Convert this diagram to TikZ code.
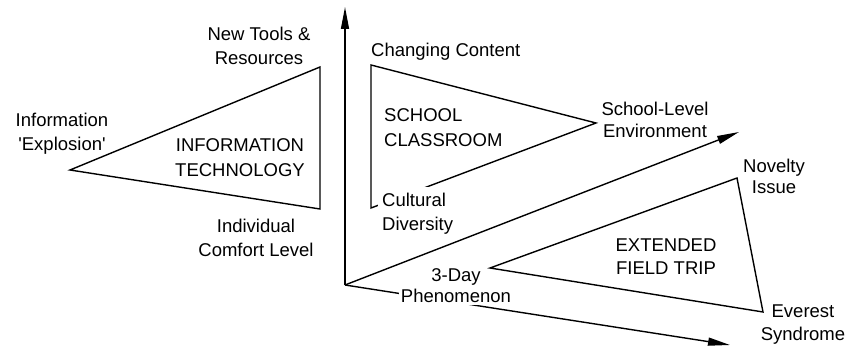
\documentclass[tikz,border=0pt]{standalone}
\usepackage{fontspec}
\setmainfont{Liberation Sans}
\usetikzlibrary{arrows.meta}
\begin{document}
\begin{tikzpicture}[x=1pt,y=-1pt,
  edge/.style={line width=1.4pt, line join=miter},
  axis/.style={line width=1.4pt, -{Triangle[length=22pt,width=8pt]}},
  lbl/.style={font=\fontsize{18.5}{#1}\selectfont, inner sep=0pt, anchor=base, align=center},
  lbl/.default=24,
  cover/.style={fill=white}
]
\useasboundingbox (0,0) rectangle (847,347);

% named points
\coordinate (O) at (345,285);
\coordinate (Ttop) at (345,7);
\coordinate (Dtip) at (739,132);
\coordinate (Btip) at (730,345);

\coordinate (it1) at (70,170);
\coordinate (it2) at (320,67);
\coordinate (it3) at (320,209);

\coordinate (sc1) at (371,65);
\coordinate (sc2) at (596,123);
\coordinate (sc3) at (371,208);

\coordinate (ft1) at (490,268);
\coordinate (ft2) at (737,178);
\coordinate (ft3) at (763,312);

% school classroom triangle (partly hidden by its label)
\draw[edge] (sc1) -- (sc2) -- (sc3) -- cycle;
\node[lbl, cover, anchor=base west, align=left, inner xsep=4pt, inner ysep=7pt] (cultural) at (378,231) {Cultural\\Diversity};

% axes
\draw[axis] (O) -- (Ttop);
\draw[axis] (O) -- (Dtip);
\draw[axis] (O) -- (Btip);

\node[lbl=21, cover, inner xsep=2pt, inner ysep=2pt] (threeday) at (456,303) {3-Day\\Phenomenon};

% other triangles
\draw[edge] (it1) -- (it2) -- (it3) -- cycle;
\draw[edge] (ft1) -- (ft2) -- (ft3) -- cycle;

% labels
\node[lbl] (newtools) at (259,65) {New Tools \&\\Resources};
\node[lbl] (info) at (62,151) {Information\\\textquotesingle Explosion\textquotesingle};
\node[lbl=25] (itlabel) at (240,177) {INFORMATION\\TECHNOLOGY};
\node[lbl] (comfort) at (256,257) {Individual\\Comfort Level};
\node[lbl, anchor=base west] (changing) at (371,57) {Changing Content};
\node[lbl=25, anchor=base west, align=left] (school) at (384,147) {SCHOOL\\CLASSROOM};
\node[lbl=22] (schoollevel) at (655,138) {School-Level\\Environment};
\node[lbl=23] (extended) at (666,275) {EXTENDED\\FIELD TRIP};
\node[lbl=21] (novelty) at (774,194) {Novelty\\Issue};
\node[lbl=23] (everest) at (803,341) {Everest\\Syndrome};
\end{tikzpicture}
\end{document}
